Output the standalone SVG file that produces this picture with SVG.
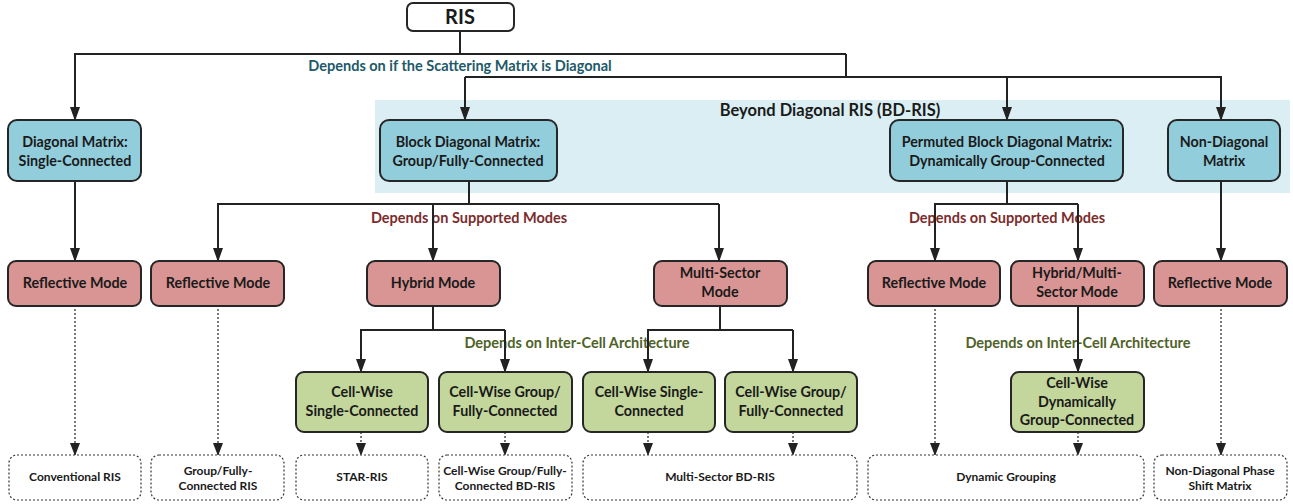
<svg xmlns="http://www.w3.org/2000/svg" width="1293" height="504" viewBox="0 0 1293 504">
<defs>
<marker id="ah" markerUnits="userSpaceOnUse" markerWidth="14" markerHeight="10" refX="13" refY="5" orient="auto"><path d="M0,0 L14,5 L0,10 z" fill="#222"/></marker>
<marker id="ahs" markerUnits="userSpaceOnUse" markerWidth="13" markerHeight="10" refX="12" refY="5" orient="auto"><path d="M0,0 L13,5 L0,10 z" fill="#222"/></marker>
</defs>
<style>
text{font-family:"Lato","Liberation Sans",sans-serif;font-weight:bold;text-anchor:middle}
.box{stroke:#262626;stroke-width:2}
.b{fill:#92cddc}.r{fill:#d99594}.g{fill:#c3d69b}
.leaf{fill:#fff;stroke:#333;stroke-width:1.2;stroke-dasharray:2,2}
.t{font-size:14.3px;fill:#1a1a1a}
.s{font-size:12px;fill:#1a1a1a}
.ln{fill:none;stroke:#222;stroke-width:2}
.ar{fill:none;stroke:#222;stroke-width:2;marker-end:url(#ah)}
.dt{fill:none;stroke:#222;stroke-width:1.2;stroke-dasharray:2,2;marker-end:url(#ahs)}
.lb{font-size:14.5px}
</style>
<rect x="375" y="100" width="915" height="93" fill="#daeef3"/>
<text x="830" y="116" style="font-size:16.5px;fill:#1a1a1a">Beyond Diagonal RIS (BD-RIS)</text>

<g id="labels">
<text class="lb" x="460" y="71" fill="#215968">Depends on if the Scattering Matrix is Diagonal</text>
<text class="lb" x="469" y="223" fill="#7b2c2c">Depends on Supported Modes</text>
<text class="lb" x="1007" y="223" fill="#7b2c2c">Depends on Supported Modes</text>
<text class="lb" x="577" y="348" fill="#4f6228">Depends on Inter-Cell Architecture</text>
<text class="lb" x="1078" y="348" fill="#4f6228">Depends on Inter-Cell Architecture</text>
</g>

<g id="connectors">
<path class="ln" d="M460,31 V54"/>
<path class="ar" d="M846,54 H75 V120"/>
<path class="ln" d="M846,54 V77"/>
<path class="ar" d="M465,77 H1221 V120"/>
<path class="ar" d="M465,77 V120"/>
<path class="ar" d="M1007,77 V120"/>
<path class="ar" d="M75,181 V261"/>
<path class="ln" d="M469,181 V204"/>
<path class="ar" d="M719,204 H218 V261"/>
<path class="ar" d="M433,204 V261"/>
<path class="ar" d="M719,204 V261"/>
<path class="ln" d="M1007,181 V204"/>
<path class="ar" d="M1078,204 H935 V261"/>
<path class="ar" d="M1078,204 V261"/>
<path class="ar" d="M1221,181 V261"/>
<path class="ln" d="M433,305 V330"/>
<path class="ar" d="M505,330 H361 V372"/>
<path class="ar" d="M505,330 V372"/>
<path class="ln" d="M720,305 V330"/>
<path class="ar" d="M793,330 H648 V372"/>
<path class="ar" d="M793,330 V372"/>
<path class="ar" d="M1078,305 V372"/>
<path class="dt" d="M75,305 V455"/>
<path class="dt" d="M218,305 V455"/>
<path class="dt" d="M935,305 V455"/>
<path class="dt" d="M1221,305 V455"/>
<path class="dt" d="M361,432 V455"/>
<path class="dt" d="M505,432 V455"/>
<path class="dt" d="M648,432 V455"/>
<path class="dt" d="M793,432 V455"/>
<path class="dt" d="M1078,432 V455"/>
</g>

<g id="ris"><rect x="407" y="3" width="107" height="28" rx="6" fill="#fff" class="box"/><text x="460" y="24" style="font-size:20px;fill:#1a1a1a">RIS</text></g>

<g id="diag"><rect x="8" y="120" width="133" height="61" rx="9" class="box b"/><text class="t" x="75" y="147">Diagonal Matrix:</text><text class="t" x="75" y="166">Single-Connected</text></g>
<g id="blockdiag"><rect x="380" y="120" width="177" height="61" rx="9" class="box b"/><text class="t" x="468" y="147">Block Diagonal Matrix:</text><text class="t" x="468" y="166">Group/Fully-Connected</text></g>
<g id="permuted"><rect x="890" y="120" width="233" height="61" rx="9" class="box b"/><text class="t" x="1007" y="147">Permuted Block Diagonal Matrix:</text><text class="t" x="1007" y="166">Dynamically Group-Connected</text></g>
<g id="nondiag"><rect x="1168" y="120" width="112" height="61" rx="9" class="box b"/><text class="t" x="1224" y="147">Non-Diagonal</text><text class="t" x="1224" y="166">Matrix</text></g>

<g id="refl1"><rect x="8" y="261" width="133" height="45" rx="8" class="box r"/><text class="t" x="75" y="288">Reflective Mode</text></g>
<g id="refl2"><rect x="151" y="261" width="133" height="45" rx="8" class="box r"/><text class="t" x="218" y="288">Reflective Mode</text></g>
<g id="hybrid"><rect x="367" y="261" width="133" height="45" rx="8" class="box r"/><text class="t" x="433" y="288">Hybrid Mode</text></g>
<g id="multisector"><rect x="654" y="261" width="133" height="45" rx="8" class="box r"/><text class="t" x="720" y="278">Multi-Sector</text><text class="t" x="720" y="297">Mode</text></g>
<g id="refl3"><rect x="868" y="261" width="132" height="45" rx="8" class="box r"/><text class="t" x="934" y="288">Reflective Mode</text></g>
<g id="hybridms"><rect x="1011" y="261" width="133" height="45" rx="8" class="box r"/><text class="t" x="1077" y="278">Hybrid/Multi-</text><text class="t" x="1077" y="297">Sector Mode</text></g>
<g id="refl4"><rect x="1154" y="261" width="133" height="45" rx="8" class="box r"/><text class="t" x="1220" y="288">Reflective Mode</text></g>

<g id="cw1"><rect x="296" y="372" width="132" height="60" rx="8" class="box g"/><text class="t" x="362" y="397">Cell-Wise</text><text class="t" x="362" y="416">Single-Connected</text></g>
<g id="cw2"><rect x="439" y="372" width="133" height="60" rx="8" class="box g"/><text class="t" x="505" y="397">Cell-Wise Group/</text><text class="t" x="505" y="416">Fully-Connected</text></g>
<g id="cw3"><rect x="583" y="372" width="132" height="60" rx="8" class="box g"/><text class="t" x="649" y="397">Cell-Wise Single-</text><text class="t" x="649" y="416">Connected</text></g>
<g id="cw4"><rect x="725" y="372" width="132" height="60" rx="8" class="box g"/><text class="t" x="791" y="397">Cell-Wise Group/</text><text class="t" x="791" y="416">Fully-Connected</text></g>
<g id="cw5"><rect x="1011" y="372" width="133" height="60" rx="8" class="box g"/><text class="t" x="1077" y="388">Cell-Wise</text><text class="t" x="1077" y="407">Dynamically</text><text class="t" x="1077" y="425">Group-Connected</text></g>

<g id="leaf1"><rect x="9" y="455" width="132" height="45" rx="8" class="leaf"/><text class="s" x="75" y="481">Conventional RIS</text></g>
<g id="leaf2"><rect x="151" y="455" width="133" height="45" rx="8" class="leaf"/><text class="s" x="218" y="475">Group/Fully-</text><text class="s" x="218" y="490">Connected RIS</text></g>
<g id="leaf3"><rect x="296" y="455" width="132" height="45" rx="8" class="leaf"/><text class="s" x="362" y="481">STAR-RIS</text></g>
<g id="leaf4"><rect x="439" y="455" width="133" height="45" rx="8" class="leaf"/><text class="s" x="505" y="475">Cell-Wise Group/Fully-</text><text class="s" x="505" y="490">Connected BD-RIS</text></g>
<g id="leaf5"><rect x="583" y="455" width="274" height="45" rx="8" class="leaf"/><text class="s" x="720" y="481">Multi-Sector BD-RIS</text></g>
<g id="leaf6"><rect x="868" y="455" width="276" height="45" rx="8" class="leaf"/><text class="s" x="1006" y="481">Dynamic Grouping</text></g>
<g id="leaf7"><rect x="1154" y="455" width="133" height="45" rx="8" class="leaf"/><text class="s" x="1220" y="475">Non-Diagonal Phase</text><text class="s" x="1220" y="490">Shift Matrix</text></g>
</svg>
